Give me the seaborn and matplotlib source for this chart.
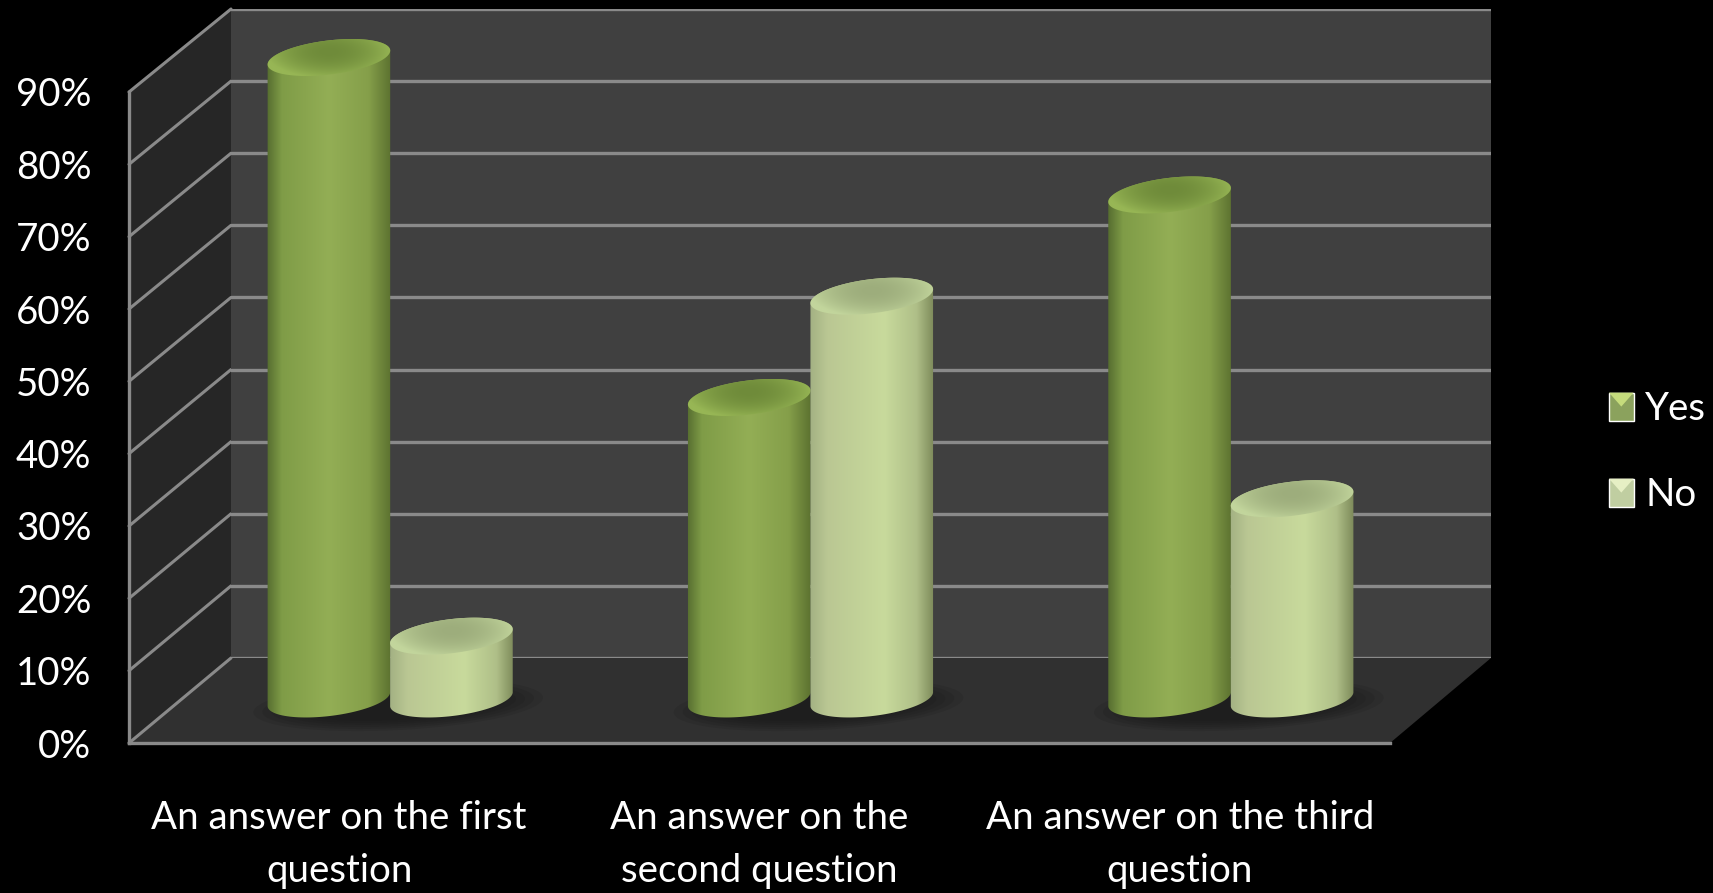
import numpy as np
import pandas as pd
import matplotlib
matplotlib.use("Agg")
import matplotlib.pyplot as plt
import seaborn as sns
from matplotlib.colors import LinearSegmentedColormap, to_rgb
from matplotlib.lines import Line2D
from matplotlib.patches import Ellipse, Polygon
from matplotlib.path import Path
from matplotlib.transforms import IdentityTransform

# data
categories = ["An answer on the first\nquestion",
              "An answer on the\nsecond question",
              "An answer on the third\nquestion"]
series_names = ["Yes", "No"]
yes_values = [90, 43, 71]
no_values = [10, 57, 29]
y_ticks = [0, 10, 20, 30, 40, 50, 60, 70, 80, 90]
y_labels = ["0%", "10%", "20%", "30%", "40%", "50%", "60%", "70%", "80%", "90%"]

W, H = 1713, 893
FS = 27.7

sns.set_theme(style="dark")
plt.rcParams["font.family"] = ["Lato", "DejaVu Sans"]

df = pd.DataFrame({
    "question": categories * 2,
    "answer": ["Yes"] * 3 + ["No"] * 3,
    "value": yes_values + no_values,
})

fig = plt.figure(figsize=(W / 100, H / 100), dpi=100, facecolor="black")
px = IdentityTransform()


def add_plane(left, right, base, top):
    # axes given in image pixels (y from the top)
    return fig.add_axes([left / W, 1 - base / H, (right - left) / W, (base - top) / H])


# ---------------------------------------------------------
# back wall, front plane and the plane the cylinders stand on
# ---------------------------------------------------------
ax_back = add_plane(231, 1491, 658, 9)
ax_front = add_plane(129, 1390, 743, 92)
ax_bar = add_plane(180, 1441, 707, 56)
ax_back.set_zorder(1)
ax_front.set_zorder(2)
ax_bar.set_zorder(3)

line_col = "#8a8a8a"

ax_back.set_facecolor("#404040")
ax_back.set_xlim(-0.5, 2.5)
ax_back.set_ylim(0, 90)
ax_back.set_xticks([])
ax_back.set_yticks(y_ticks)
ax_back.set_yticklabels([])
ax_back.tick_params(length=0)
ax_back.grid(axis="y", color=line_col, lw=2.4)
for s in ax_back.spines.values():
    s.set_visible(False)

ax_front.patch.set_alpha(0)
ax_front.set_xlim(-0.5, 2.5)
ax_front.set_ylim(0, 90)
ax_front.set_xticks(range(3))
ax_front.set_xticklabels(categories, color="white", fontsize=FS, linespacing=1.6)
ax_front.set_yticks(y_ticks)
ax_front.set_yticklabels(y_labels, color="white", fontsize=FS)
ax_front.tick_params(axis="x", length=0, pad=41)
ax_front.tick_params(axis="y", length=0, pad=27)
ax_front.grid(False)
for name, s in ax_front.spines.items():
    s.set_visible(name in ("left", "bottom"))
    s.set_color(line_col)
    s.set_linewidth(2.4)

# side wall and floor, joined up from the two planes
fig.canvas.draw()
f00 = ax_front.transData.transform((-0.5, 0))
f01 = ax_front.transData.transform((-0.5, 90))
f10 = ax_front.transData.transform((2.5, 0))
b00 = ax_back.transData.transform((-0.5, 0))
b01 = ax_back.transData.transform((-0.5, 90))
b10 = ax_back.transData.transform((2.5, 0))
fig.add_artist(Polygon([f00, f01, b01, b00], transform=px, fc="#262626", ec="none", zorder=-2))
fig.add_artist(Polygon([f00, f10, b10, b00], transform=px, fc="#303030", ec="none", zorder=-2))
for t in y_ticks:
    p0 = ax_front.transData.transform((-0.5, t))
    p1 = ax_back.transData.transform((-0.5, t))
    fig.add_artist(Line2D([p0[0], p1[0]], [p0[1], p1[1]], transform=px,
                          color=line_col, lw=2.2, zorder=-1))

# ---------------------------------------------------------
# bars: seaborn sets the geometry, cylinders are painted over it
# ---------------------------------------------------------
ax_bar.patch.set_alpha(0)
sns.barplot(data=df, x="question", y="value", hue="answer", hue_order=series_names,
            palette=["#8fad52", "#c3d59a"], width=0.583, gap=0, ax=ax_bar)
ax_bar.set_xlim(-0.5, 2.5)
ax_bar.set_ylim(0, 90)
ax_bar.set_xticks([])
ax_bar.set_yticks([])
ax_bar.set_xlabel("")
ax_bar.set_ylabel("")
ax_bar.grid(False)
for s in ax_bar.spines.values():
    s.set_visible(False)

sns.move_legend(ax_bar, "center left", bbox_to_anchor=(1609 / W, 1 - 452 / H),
                bbox_transform=fig.transFigure, frameon=False, title=None,
                labelcolor="white", fontsize=FS, handlelength=0.64, handleheight=0.74,
                handletextpad=0.3, labelspacing=1.3, borderpad=0, borderaxespad=0)

body_cmaps = [
    LinearSegmentedColormap.from_list("yes", [(0, "#566d30"), (0.12, "#7f9c47"), (0.5, "#93ae55"),
                                              (0.82, "#859f4a"), (1, "#5c7230")]),
    LinearSegmentedColormap.from_list("no", [(0, "#a3b183"), (0.14, "#bac793"), (0.6, "#c8da9c"),
                                             (0.86, "#afbf88"), (1, "#7d8a5a")]),
]
top_inner = ["#6f8b3a", "#9dad7c"]
top_rim = ["#97b655", "#c2d59c"]

TILT = np.deg2rad(7)
RY = 17
BASE_LIFT = 8  # bottom ellipse sits a little above the baseline on screen


def ell_pts(cx, cy, rx, ts):
    x = rx * np.cos(ts)
    y = RY * np.sin(ts)
    return np.column_stack([cx + x * np.cos(TILT) - y * np.sin(TILT),
                            cy + x * np.sin(TILT) + y * np.cos(TILT)])


def paint_cylinder(patch, s):
    x0 = patch.get_x()
    x1 = x0 + patch.get_width()
    (xa, ya), (xb, yb) = ax_bar.transData.transform([(x0, 0), (x1, patch.get_height())])
    cx = (xa + xb) / 2
    rx = (xb - xa) / 2 + 0.5
    y_low = ya + BASE_LIFT
    yb = yb - 1.5

    # body
    pts = np.vstack([ell_pts(cx, y_low, rx, np.linspace(np.pi, 2 * np.pi, 60)),
                     ell_pts(cx, yb, rx, np.linspace(0, np.pi, 60))])
    im = ax_bar.imshow(np.linspace(0, 1, 256)[None, :], cmap=body_cmaps[s], aspect="auto",
                       extent=(cx - rx, cx + rx, y_low - 2 * RY, yb + 2 * RY),
                       transform=px, zorder=5 + s)
    # images are cropped to their clip box, so it has to be the whole figure
    im.set_clip_box(fig.bbox)
    im.set_clip_path(Path(np.vstack([pts, pts[:1]])), px)

    # top face: dark centre fading to a light rim
    u, v = np.meshgrid(np.linspace(-1, 1, 160), np.linspace(-1, 1, 80))
    r = np.clip(np.hypot(u, v - 0.2), 0, 1)[..., None] ** 2
    shade = np.array(to_rgb(top_inner[s])) * (1 - r) + np.array(to_rgb(top_rim[s])) * r
    im2 = ax_bar.imshow(shade, aspect="auto", origin="lower", interpolation="bilinear",
                        extent=(cx - rx - 2, cx + rx + 2, yb - RY - 10, yb + RY + 10),
                        transform=px, zorder=5 + s)
    im2.set_clip_box(fig.bbox)
    top = ell_pts(cx, yb, rx, np.linspace(0, 2 * np.pi, 120))
    im2.set_clip_path(Path(top), px)
    patch.set_visible(False)


for s, container in enumerate(ax_bar.containers):
    for patch in container:
        paint_cylinder(patch, s)

ax_bar.set_xlim(-0.5, 2.5)
ax_bar.set_ylim(0, 90)

# soft shadow on the floor under each pair
for q in range(3):
    sx, sy = ax_bar.transData.transform((q, 0))
    for k in range(6):
        ax_bar.add_patch(Ellipse((sx + 8, sy + 2), 290 - k * 18, 50 - k * 4, angle=3,
                                 transform=px, fc="#141414", ec="none",
                                 alpha=0.14, zorder=2, clip_on=False))

# bevel on the legend keys
fig.canvas.draw()
for handle, light in zip(ax_bar.legend_.legend_handles, ["#c5dc7c", "#e6efc4"]):
    bb = handle.get_window_extent()
    mx, my = (bb.x0 + bb.x1) / 2, (bb.y0 + bb.y1) / 2
    fig.add_artist(Polygon([(bb.x0, bb.y1), (bb.x1, bb.y1), (mx, my)], transform=px,
                           fc=light, ec="none", zorder=10))

fig.savefig("out.png", dpi=100, facecolor="black")
